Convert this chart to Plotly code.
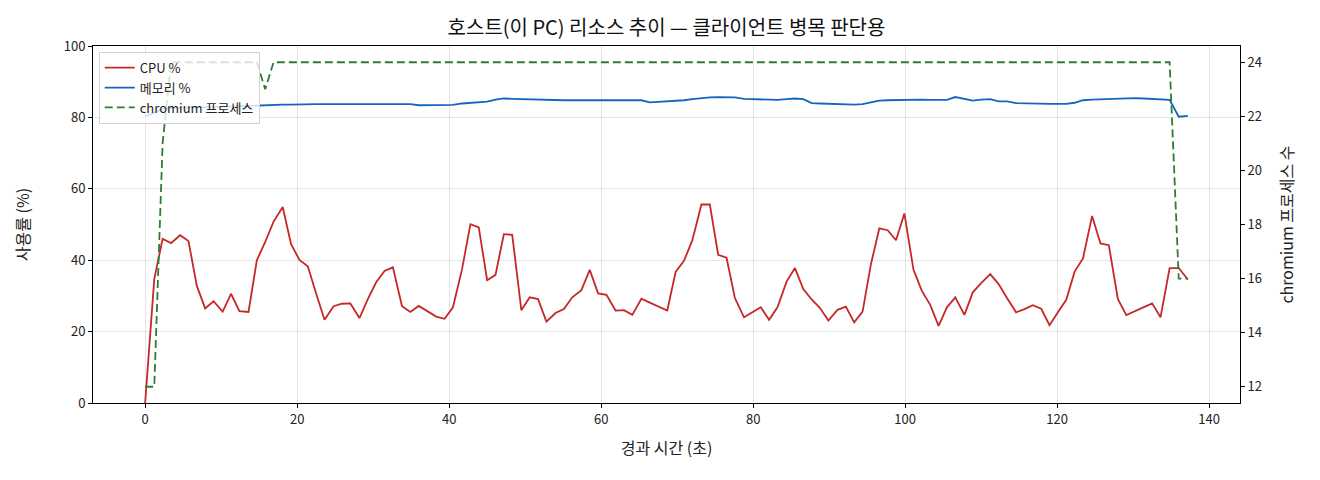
import plotly.graph_objects as go

# 경과 시간 (초)
elapsed_s = [
    0.0, 1.2, 2.3, 3.4, 4.6, 5.7, 6.8, 7.9, 9.0, 10.2,
    11.3, 12.4, 13.6, 14.7, 15.8, 16.9, 18.1, 19.2, 20.3, 21.4,
    22.5, 23.6, 24.8, 25.9, 27.0, 28.2, 29.3, 30.4, 31.5, 32.6,
    33.8, 34.9, 36.0, 37.2, 38.3, 39.4, 40.5, 41.7, 42.8, 43.9,
    45.0, 46.1, 47.2, 48.3, 49.5, 50.6, 51.7, 52.8, 54.0, 55.1,
    56.2, 57.4, 58.5, 59.6, 60.7, 61.9, 63.0, 64.1, 65.3, 66.4,
    67.5, 68.7, 69.8, 70.9, 72.0, 73.2, 74.3, 75.4, 76.5, 77.6,
    78.8, 79.9, 81.0, 82.1, 83.2, 84.4, 85.5, 86.6, 87.7, 88.8,
    89.9, 91.1, 92.2, 93.3, 94.4, 95.5, 96.6, 97.7, 98.8, 99.9,
    101.1, 102.2, 103.3, 104.4, 105.5, 106.6, 107.8, 108.9, 110.0, 111.2,
    112.3, 113.4, 114.6, 115.7, 116.8, 117.9, 119.0, 120.1, 121.2, 122.3,
    123.4, 124.6, 125.7, 126.8, 128.0, 129.1, 130.2, 131.4, 132.5, 133.6,
    134.8, 136.0, 137.2,
]

cpu_pct = [
    0.0, 34.7, 46.0, 44.8, 47.0, 45.4, 32.8, 26.5, 28.5, 25.6,
    30.6, 25.7, 25.5, 40.0, 45.1, 50.8, 54.9, 44.5, 40.1, 38.3,
    30.7, 23.3, 27.1, 27.8, 27.9, 23.8, 29.1, 33.8, 37.0, 38.0,
    27.1, 25.5, 27.2, 25.7, 24.2, 23.6, 26.8, 37.5, 50.1, 49.2,
    34.4, 35.9, 47.3, 47.1, 26.0, 29.6, 29.1, 22.8, 25.2, 26.3,
    29.6, 31.6, 37.3, 30.7, 30.3, 25.9, 26.0, 24.7, 29.2, 28.1,
    27.0, 25.9, 36.7, 39.8, 45.6, 55.6, 55.6, 41.5, 40.7, 29.4,
    24.0, 25.4, 26.8, 23.3, 26.8, 34.0, 37.8, 31.9, 29.0, 26.6,
    23.1, 26.1, 27.0, 22.6, 25.6, 38.9, 48.9, 48.4, 45.6, 53.1,
    37.3, 31.4, 27.5, 21.6, 26.8, 29.6, 24.7, 31.0, 33.6, 36.1,
    33.3, 29.4, 25.4, 26.3, 27.4, 26.4, 21.8, 25.4, 28.9, 36.8,
    40.5, 52.4, 44.7, 44.2, 29.1, 24.6, 25.7, 26.8, 27.9, 24.0,
    37.8, 37.8, 34.6,
]

mem_pct = [
    80.2, 81.2, 82.3, 82.6, 82.7, 82.8, 82.8, 82.9, 82.9, 83.0,
    83.0, 83.1, 83.1, 83.2, 83.3, 83.6, 83.6, 83.6, 83.7, 83.7,
    83.7, 83.7, 83.7, 83.6, 83.6, 83.6, 83.6, 83.7, 83.8, 83.8,
    83.8, 83.7, 83.4, 83.4, 83.4, 83.5, 83.5, 83.9, 84.1, 84.3,
    84.4, 85.0, 85.3, 85.2, 85.1, 85.0, 84.9, 84.9, 84.8, 84.8,
    84.8, 84.8, 84.9, 84.9, 84.9, 84.9, 84.9, 84.8, 84.8, 84.2,
    84.3, 84.4, 84.5, 84.8, 85.1, 85.4, 85.6, 85.7, 85.7, 85.6,
    85.2, 85.1, 84.9, 84.9, 84.9, 85.1, 85.3, 85.1, 84.0, 83.9,
    83.8, 83.7, 83.6, 83.6, 83.7, 84.2, 84.7, 84.8, 84.9, 84.9,
    85.0, 85.0, 84.9, 84.9, 84.9, 85.7, 85.2, 84.7, 85.0, 85.1,
    84.5, 84.5, 84.0, 83.9, 83.8, 83.8, 83.8, 83.8, 83.8, 84.1,
    84.8, 85.0, 85.1, 85.2, 85.3, 85.3, 85.4, 85.3, 85.2, 85.1,
    84.9, 80.2, 80.4,
]

chromium_procs = [
    12, 12, 21, 24, 24, 24, 24, 24, 24, 24,
    24, 24, 24, 24, 23, 24, 24, 24, 24, 24,
    24, 24, 24, 24, 24, 24, 24, 24, 24, 24,
    24, 24, 24, 24, 24, 24, 24, 24, 24, 24,
    24, 24, 24, 24, 24, 24, 24, 24, 24, 24,
    24, 24, 24, 24, 24, 24, 24, 24, 24, 24,
    24, 24, 24, 24, 24, 24, 24, 24, 24, 24,
    24, 24, 24, 24, 24, 24, 24, 24, 24, 24,
    24, 24, 24, 24, 24, 24, 24, 24, 24, 24,
    24, 24, 24, 24, 24, 24, 24, 24, 24, 24,
    24, 24, 24, 24, 24, 24, 24, 24, 24, 24,
    24, 24, 24, 24, 24, 24, 24, 24, 24, 24,
    24, 16, 16,
]

FONT = "Noto Sans CJK KR, Noto Sans, sans-serif"

fig = go.Figure()

fig.add_trace(go.Scatter(
    x=elapsed_s, y=cpu_pct, mode="lines", name="CPU %",
    line=dict(color="#c62828", width=1.8),
))
fig.add_trace(go.Scatter(
    x=elapsed_s, y=mem_pct, mode="lines", name="메모리 %",
    line=dict(color="#1565c0", width=1.8),
))
fig.add_trace(go.Scatter(
    x=elapsed_s, y=chromium_procs, mode="lines", name="chromium 프로세스",
    line=dict(color="#2e7d32", width=1.8, dash="8px,4px"),
    yaxis="y2",
))

axis_common = dict(
    showline=True, linecolor="black", linewidth=1,
    ticks="outside", ticklen=4, tickcolor="black",
    zeroline=False, tickfont=dict(size=13, color="#222"),
)

# 페이지 body 여백(8px)을 감안해 크기/여백을 잡음
fig.update_layout(
    width=1312, height=472,
    margin=dict(l=85, r=80, t=38, b=77),
    paper_bgcolor="white", plot_bgcolor="white",
    font=dict(family=FONT, color="#222"),
    title=dict(
        text="호스트(이 PC) 리소스 추이 — 클라이언트 병목 판단용",
        x=0.5, xref="paper", xanchor="center",
        y=0.958, yref="container", yanchor="middle",
        font=dict(size=20, color="#111"),
    ),
    xaxis=dict(
        range=[-6.86, 144.06], tickvals=[0, 20, 40, 60, 80, 100, 120, 140],
        showgrid=True, gridcolor="rgba(0,0,0,0.1)", mirror=True,
        title=dict(text="경과 시간 (초)", font=dict(size=16), standoff=16),
        **axis_common,
    ),
    yaxis=dict(
        range=[0, 100], tickvals=[0, 20, 40, 60, 80, 100],
        showgrid=True, gridcolor="rgba(0,0,0,0.1)", mirror=True,
        title=dict(text="사용률 (%)", font=dict(size=16), standoff=30),
        **axis_common,
    ),
    yaxis2=dict(
        range=[11.4, 24.6], tickvals=[12, 14, 16, 18, 20, 22, 24],
        overlaying="y", side="right", showgrid=False,
        title=dict(text="chromium 프로세스 수", font=dict(size=16), standoff=20),
        **axis_common,
    ),
    legend=dict(
        x=0.005, y=0.984, xanchor="left", yanchor="top",
        bgcolor="rgba(255,255,255,0.8)", bordercolor="#d0d0d0", borderwidth=1,
        font=dict(size=13), itemwidth=30,
    ),
    showlegend=True,
)

fig.write_html("out.html")
